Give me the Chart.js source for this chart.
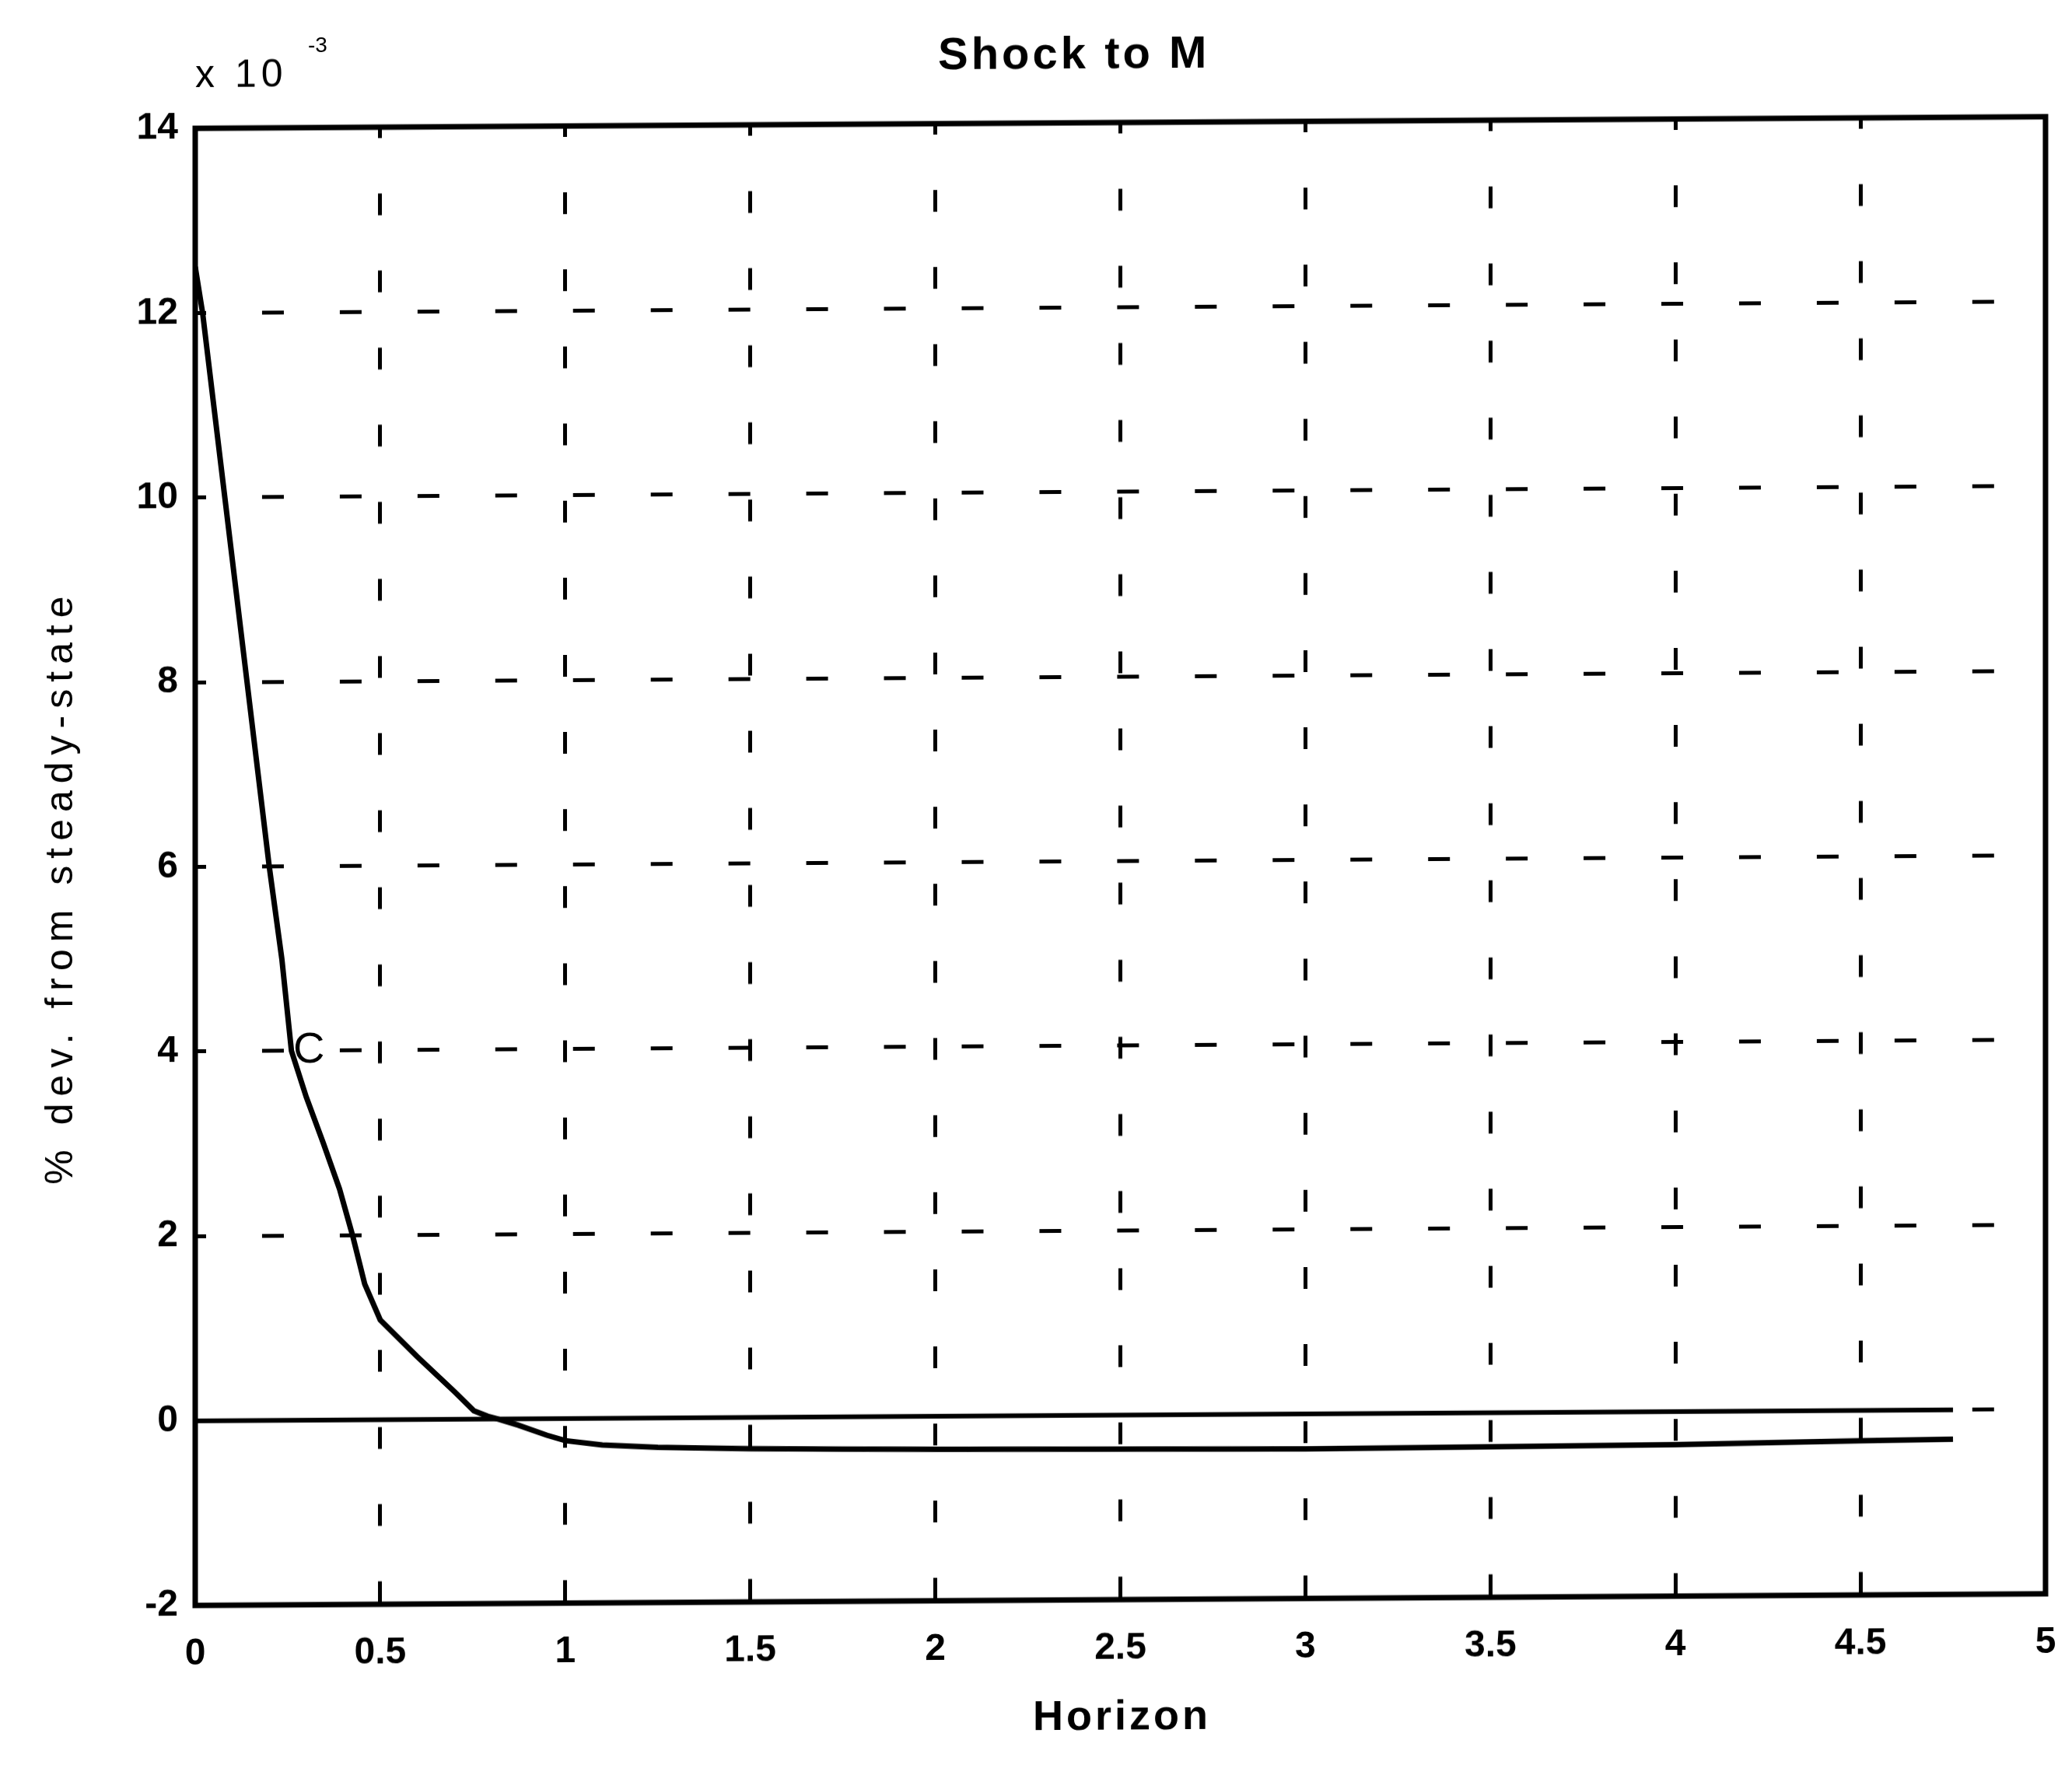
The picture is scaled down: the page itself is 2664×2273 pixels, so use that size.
<!DOCTYPE html>
<html>
<head>
<meta charset="utf-8">
<script src="https://cdn.jsdelivr.net/npm/chart.js@4.4.1/dist/chart.umd.min.js"></script>
<style>
html, body { margin: 0; padding: 0; background: #fff; overflow: hidden; }
#wrap { width: 2664px; height: 2273px; transform: skewY(-0.36deg); transform-origin: 251px 0; }
canvas { display: block; }
</style>
</head>
<body>
<div id="wrap"><canvas id="c" width="2664" height="2273"></canvas></div>
<script>
// ---- data (values in units of 10^-3) ----
const horizon    = [0, 0.02, 0.05, 0.08, 0.11, 0.14, 0.17, 0.2, 0.234, 0.26, 0.3, 0.346, 0.39, 0.425, 0.458, 0.5, 0.6, 0.7, 0.753, 0.79, 0.817, 0.873, 0.95, 1.0, 1.1, 1.25, 1.5, 1.75, 2.0, 2.5, 3.0, 3.5, 4.0, 4.5, 4.75];
const responseC  = [12.5, 12.0, 11.0, 10.0, 9.0, 8.0, 7.0, 6.0, 5.0, 4.0, 3.5, 3.0, 2.5, 2.0, 1.47, 1.08, 0.68, 0.3, 0.09, 0.03, 0.0, -0.07, -0.18, -0.24, -0.29, -0.32, -0.34, -0.35, -0.36, -0.37, -0.38, -0.37, -0.36, -0.33, -0.32];
const zeroHorizon = [0, 4.75];
const zeroLine    = [0, 0];
const xTickValues = [0, 0.5, 1, 1.5, 2, 2.5, 3, 3.5, 4, 4.5, 5];
const yTickValues = [-2, 0, 2, 4, 6, 8, 10, 12, 14];
const chartTitle  = 'Shock to M';
const xAxisTitle  = 'Horizon';
const yAxisTitle  = '% dev. from steady-state';
const scaleNote   = 'x 10';
const scaleExp    = '-3';
const seriesName  = 'C';
const seriesLabelX = 0.265;
const seriesLabelY = 4;

const FONT = 'Liberation Sans, Arial, sans-serif';

const framePlugin = {
  id: 'frame',
  afterDatasetsDraw(chart) {
    const {ctx, chartArea: a} = chart;
    ctx.save();
    ctx.strokeStyle = '#000';
    ctx.lineWidth = 7;
    ctx.strokeRect(a.left, a.top, a.right - a.left, a.bottom - a.top);
    ctx.restore();
  }
};

const textPlugin = {
  id: 'texts',
  afterDraw(chart) {
    const {ctx, chartArea: a, scales} = chart;
    ctx.save();
    ctx.fillStyle = '#000';
    // title
    ctx.font = 'bold 58px ' + FONT;
    ctx.letterSpacing = '4px';
    ctx.textAlign = 'left';
    ctx.textBaseline = 'alphabetic';
    ctx.fillText(chartTitle, 1206, 95);
    // exponent note
    ctx.font = '50px ' + FONT;
    ctx.letterSpacing = '6px';
    ctx.fillText(scaleNote, a.left, 112);
    ctx.font = '28px ' + FONT;
    ctx.letterSpacing = '0px';
    ctx.fillText(scaleExp, 396, 68);
    // x title
    ctx.font = 'bold 54px ' + FONT;
    ctx.letterSpacing = '4px';
    ctx.textAlign = 'center';
    ctx.textBaseline = 'middle';
    ctx.fillText(xAxisTitle, (a.left + a.right) / 2 + 2, 2216);
    // y title
    ctx.save();
    ctx.translate(79, 1139);
    ctx.rotate(-Math.PI / 2);
    ctx.font = '50px ' + FONT;
    ctx.letterSpacing = '9px';
    ctx.fillText(yAxisTitle, 0, 0);
    ctx.restore();
    // series label
    ctx.font = '56px ' + FONT;
    ctx.letterSpacing = '0px';
    ctx.textAlign = 'left';
    ctx.textBaseline = 'middle';
    ctx.fillText(seriesName, scales.x.getPixelForValue(seriesLabelX), scales.y.getPixelForValue(seriesLabelY));
    ctx.restore();
  }
};

const tickFont = {family: FONT, size: 48, weight: 'bold'};
const fmt = v => String(v);

new Chart(document.getElementById('c').getContext('2d'), {
  type: 'line',
  data: {
    datasets: [
      {
        label: seriesName,
        data: horizon.map((x, i) => ({x, y: responseC[i]})),
        borderColor: '#000',
        borderWidth: 7,
        pointRadius: 0,
        tension: 0,
        fill: false
      },
      {
        label: 'zero',
        data: zeroHorizon.map((x, i) => ({x, y: zeroLine[i]})),
        borderColor: '#000',
        borderWidth: 6,
        pointRadius: 0,
        fill: false
      }
    ]
  },
  options: {
    responsive: false,
    animation: false,
    devicePixelRatio: 1,
    layout: {padding: {left: 0, right: 34, top: 165, bottom: 0}},
    plugins: {legend: {display: false}, tooltip: {enabled: false}, title: {display: false}},
    scales: {
      x: {
        type: 'linear', min: 0, max: 5,
        afterBuildTicks: s => { s.ticks = xTickValues.map(v => ({value: v})); },
        afterFit: s => { s.height = 209; },
        ticks: {color: '#000', font: tickFont, padding: 0, maxRotation: 0, autoSkip: false, callback: fmt},
        grid: {color: '#000', lineWidth: 5, drawTicks: true, tickLength: 34, tickColor: 'rgba(0,0,0,0)'},
        border: {display: false, dash: [28, 71.125], dashOffset: 14}
      },
      y: {
        type: 'linear', min: -2, max: 14,
        afterBuildTicks: s => { s.ticks = yTickValues.map(v => ({value: v})); },
        afterFit: s => { s.width = 251; },
        ticks: {color: '#000', font: tickFont, padding: 22, autoSkip: false, callback: fmt},
        grid: {color: '#000', lineWidth: 5, drawTicks: false},
        border: {display: false, dash: [28, 71.95], dashOffset: 14}
      }
    }
  },
  plugins: [framePlugin, textPlugin]
});
</script>
</body>
</html>
